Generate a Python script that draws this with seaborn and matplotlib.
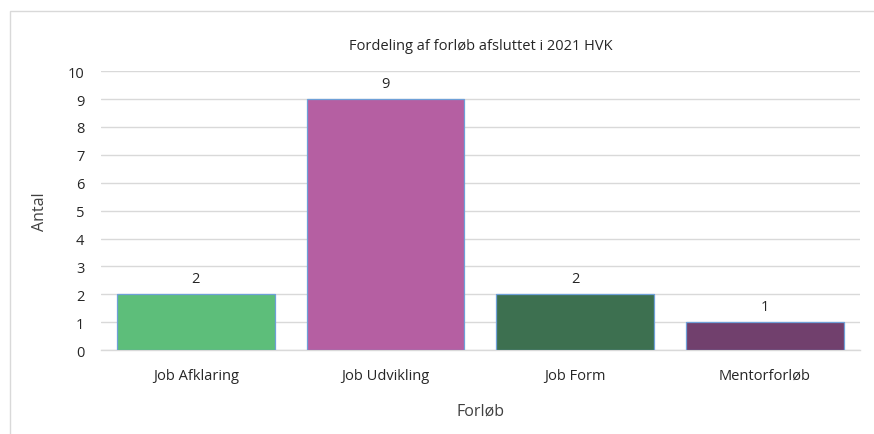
import matplotlib.pyplot as plt
import seaborn as sns
from matplotlib.patches import Rectangle

# data
categories = ["Job Afklaring", "Job Udvikling", "Job Form", "Mentorforløb"]
counts = [2, 9, 2, 1]
bar_colors = ["#5DBE7A", "#B55FA2", "#3D7050", "#71406D"]
y_ticks = list(range(0, 11))

sns.set_theme(style="white")
plt.rcParams["font.family"] = ["Open Sans", "DejaVu Sans"]

fig = plt.figure(figsize=(8.74, 4.35), dpi=100)
ax = fig.add_axes([0.1156, 0.193, 0.868, 0.641])

sns.barplot(x=categories, y=counts, hue=categories, palette=bar_colors,
            saturation=1, legend=False, width=0.83, edgecolor="#6FA0D8",
            linewidth=0.9, ax=ax, zorder=3)

for container in ax.containers:
    ax.bar_label(container, padding=6, fontsize=10.5, color="#262626")

ax.set_ylim(0, 10)
ax.set_yticks(y_ticks)
ax.yaxis.grid(True, color="#D9D9D9", linewidth=1, zorder=0)
ax.set_axisbelow(True)
for side in ["left", "right", "top"]:
    ax.spines[side].set_visible(False)
ax.spines["bottom"].set_color("#D9D9D9")
ax.spines["bottom"].set_linewidth(1)
ax.tick_params(axis="both", length=0, labelsize=10.5, colors="#262626")
ax.tick_params(axis="x", pad=13)
ax.tick_params(axis="y", pad=12)

ax.set_xlabel("Forløb", fontsize=11.5, color="#404040", labelpad=14)
ax.set_ylabel("Antal", fontsize=11.5, color="#404040", labelpad=14)
ax.set_title("Fordeling af forløb afsluttet i 2021 HVK", fontsize=10.5,
             color="#262626", pad=16)

# outer chart border
fig.patches.append(Rectangle((10 / 874, -0.02), 1.0, 1 - 12 / 435 + 0.02,
                             transform=fig.transFigure, fill=False,
                             edgecolor="#D9D9D9", linewidth=1))

fig.savefig("out.png", dpi=100)
